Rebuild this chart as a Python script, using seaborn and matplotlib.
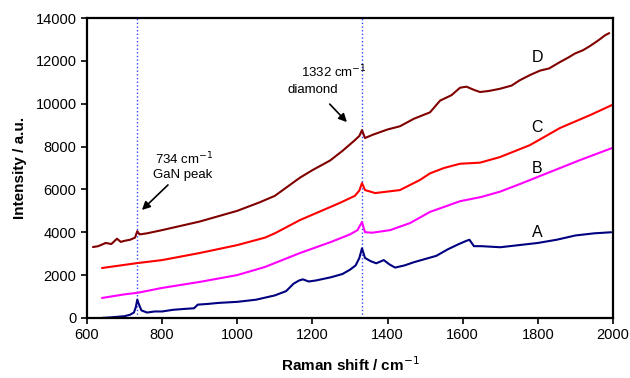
import numpy as np
import pandas as pd
import matplotlib
matplotlib.use("Agg")
import matplotlib.pyplot as plt
import seaborn as sns

# ---- data ----
a_x = [640, 660, 680, 700, 715, 725, 730, 734, 738, 745, 760, 780, 800, 830, 860, 885, 895, 920, 950,
       1000, 1050, 1100, 1130, 1150, 1165, 1175, 1190, 1210, 1250, 1280, 1300, 1315, 1325, 1332, 1340,
       1355, 1370, 1390, 1405, 1420, 1445, 1470, 1500, 1530, 1560, 1590, 1610, 1618, 1630, 1650, 1700,
       1750, 1800, 1850, 1900, 1950, 1995]
a_y = [0, 20, 50, 80, 150, 250, 500, 850, 650, 350, 250, 300, 300, 380, 420, 450, 620, 650, 700,
       750, 850, 1050, 1250, 1600, 1750, 1800, 1700, 1750, 1900, 2050, 2250, 2450, 2800, 3250, 2800,
       2650, 2550, 2700, 2500, 2350, 2450, 2600, 2750, 2900, 3200, 3450, 3600, 3650, 3350, 3350, 3300,
       3400, 3500, 3650, 3850, 3950, 4000]

b_x = [640, 700, 734, 800, 900, 1000, 1074, 1167, 1250, 1300, 1320, 1332, 1340, 1360, 1407, 1460,
       1513, 1593, 1650, 1700, 1752, 1832, 1912, 1997]
b_y = [930, 1100, 1170, 1400, 1680, 2000, 2380, 3030, 3550, 3900, 4100, 4480, 4000, 3980, 4100, 4430,
       4950, 5450, 5650, 5900, 6250, 6810, 7370, 7930]

c_x = [640, 734, 800, 900, 1000, 1074, 1100, 1167, 1273, 1313, 1325, 1332, 1340, 1367, 1433, 1486,
       1513, 1550, 1593, 1646, 1699, 1779, 1859, 1939, 1997]
c_y = [2330, 2560, 2700, 3030, 3400, 3750, 3950, 4570, 5370, 5700, 5950, 6300, 5970, 5830, 5970, 6440,
       6750, 7000, 7200, 7250, 7510, 8070, 8870, 9470, 9940]

d_x = [616, 630, 650, 665, 680, 690, 700, 715, 728, 734, 740, 760, 800, 850, 900, 950, 1000, 1060,
       1100, 1167, 1200, 1247, 1280, 1313, 1325, 1332, 1340, 1360, 1400, 1433, 1470, 1513, 1540, 1570,
       1593, 1610, 1630, 1646, 1670, 1699, 1730, 1752, 1780, 1806, 1830, 1859, 1880, 1899, 1920, 1939,
       1960, 1979, 1990]
d_y = [3310, 3350, 3500, 3450, 3700, 3550, 3600, 3650, 3750, 4050, 3900, 3950, 4100, 4300, 4500, 4750,
       5000, 5400, 5700, 6550, 6900, 7350, 7800, 8300, 8500, 8770, 8400, 8550, 8800, 8950, 9300, 9600,
       10150, 10400, 10750, 10800, 10650, 10550, 10600, 10700, 10850, 11100, 11350, 11550, 11650, 11950,
       12150, 12350, 12500, 12700, 12950, 13200, 13300]

series_names = ["A", "B", "C", "D"]
series_colors = ["#000080", "#ff00ff", "#ff0000", "#800000"]
peak_positions = [734, 1332]
x_ticks = [600, 800, 1000, 1200, 1400, 1600, 1800, 2000]
y_ticks = [0, 2000, 4000, 6000, 8000, 10000, 12000, 14000]

df = pd.concat([
    pd.DataFrame({"x": xs, "y": ys, "s": n})
    for n, xs, ys in zip(series_names, [a_x, b_x, c_x, d_x], [a_y, b_y, c_y, d_y])
], ignore_index=True)

sns.set_style("ticks")
plt.rcParams["font.family"] = ["Liberation Sans", "DejaVu Sans"]
plt.rcParams["text.color"] = "black"
plt.rcParams["axes.labelcolor"] = "black"

fig = plt.figure(figsize=(6.3, 3.78), dpi=100)
ax = fig.add_axes([0.138, 0.159, 0.835, 0.793])

for pk in peak_positions:
    ax.axvline(pk, color="#3344ff", linestyle=":", linewidth=1.0, zorder=1)

sns.lineplot(data=df, x="x", y="y", hue="s", palette=dict(zip(series_names, series_colors)),
             sort=False, estimator=None, linewidth=1.5, legend=False, ax=ax, zorder=2)

ax.set_xlim(600, 2000)
ax.set_ylim(0, 14000)
ax.set_xticks(x_ticks)
ax.set_yticks(y_ticks)
ax.tick_params(axis="both", direction="out", length=4, width=1.2, labelsize=10.5, colors="black")
for sp in ax.spines.values():
    sp.set_linewidth(1.6)
    sp.set_color("black")

ax.set_xlabel("Raman shift / cm$^{-1}$", fontsize=11, fontweight="bold", labelpad=9, color="black")
ax.set_ylabel("Intensity / a.u.", fontsize=11, fontweight="bold", labelpad=6, color="black")

# series labels
label_pos = {"A": (1798, 4010), "B": (1798, 7000), "C": (1798, 8910), "D": (1798, 12180)}
for n in series_names:
    ax.text(*label_pos[n], n, fontsize=11.5, ha="center", va="center", color="black")

# annotations
ax.text(860, 7400, "734 cm$^{-1}$", fontsize=9.5, ha="center", va="center", color="black")
ax.text(855, 6680, "GaN peak", fontsize=9.5, ha="center", va="center", color="black")
ax.annotate("", xy=(741, 4950), xytext=(821, 6300),
            arrowprops=dict(arrowstyle="-|>", color="black", lw=1.2, mutation_scale=12))
ax.text(1258, 11470, "1332 cm$^{-1}$", fontsize=9.5, ha="center", va="center", color="black")
ax.text(1200, 10640, "diamond", fontsize=9.5, ha="center", va="center", color="black")
ax.annotate("", xy=(1297, 9050), xytext=(1241, 10080),
            arrowprops=dict(arrowstyle="-|>", color="black", lw=1.2, mutation_scale=12))

fig.savefig("out.png", dpi=100)
